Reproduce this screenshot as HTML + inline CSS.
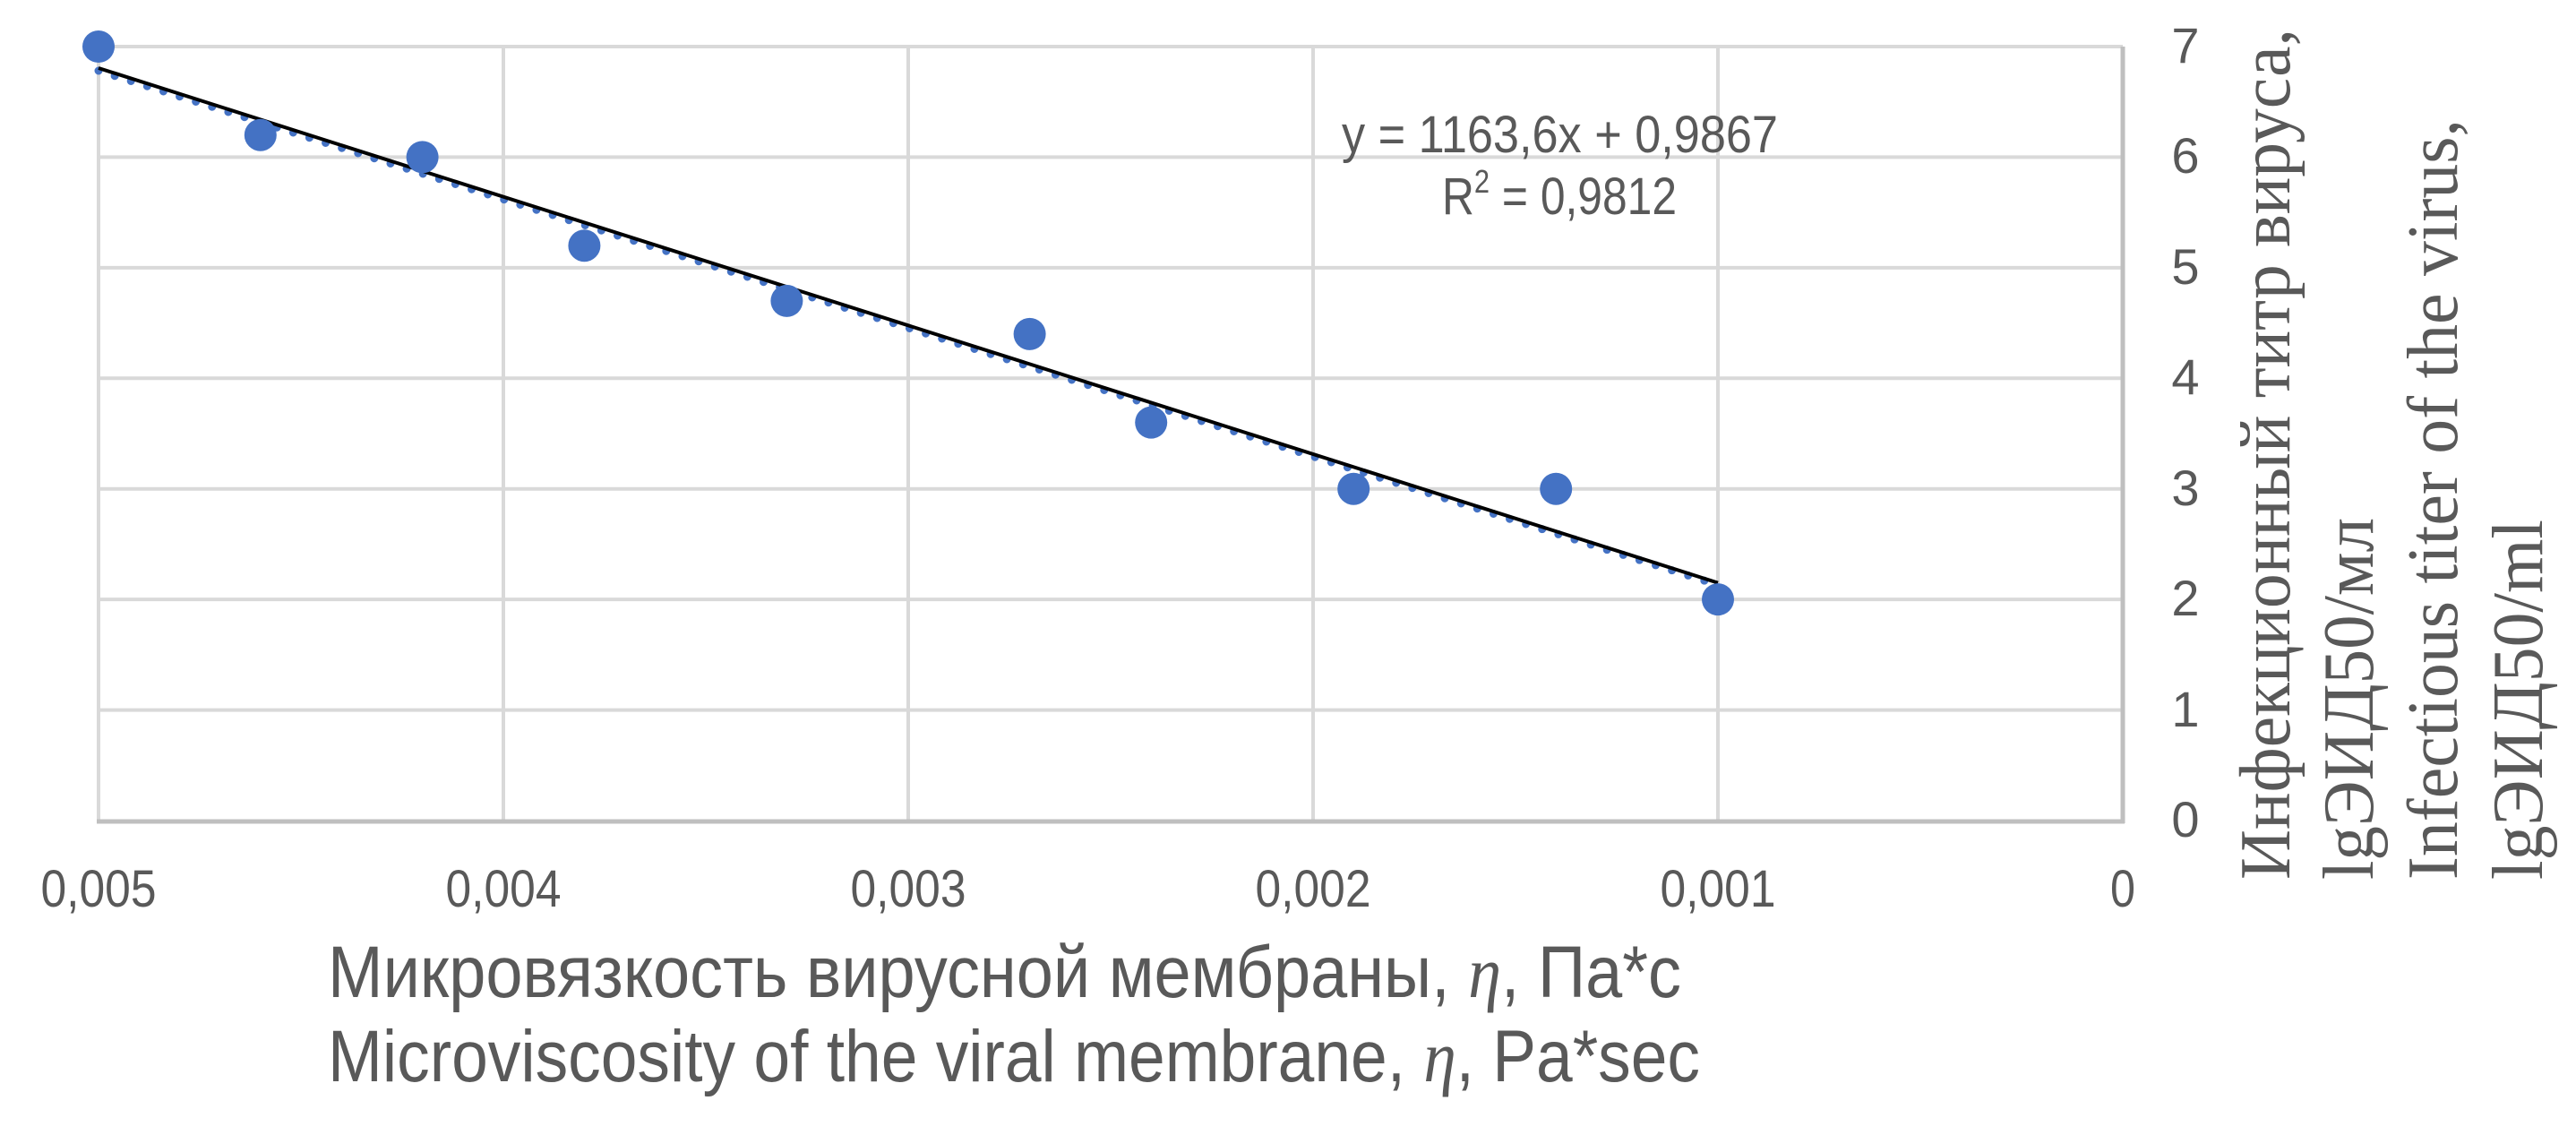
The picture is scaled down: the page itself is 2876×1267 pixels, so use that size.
<!DOCTYPE html>
<html><head><meta charset="utf-8"><style>html,body{margin:0;padding:0;background:#fff}svg{display:block}</style></head>
<body>
<svg width="2876" height="1267" viewBox="0 0 2876 1267" xmlns="http://www.w3.org/2000/svg">
<rect width="2876" height="1267" fill="#fff"/>
<g stroke="#d9d9d9" stroke-width="4">
<line x1="110" y1="52" x2="2370" y2="52"/>
<line x1="110" y1="175.4" x2="2370" y2="175.4"/>
<line x1="110" y1="298.9" x2="2370" y2="298.9"/>
<line x1="110" y1="422.3" x2="2370" y2="422.3"/>
<line x1="110" y1="545.7" x2="2370" y2="545.7"/>
<line x1="110" y1="669.1" x2="2370" y2="669.1"/>
<line x1="110" y1="792.6" x2="2370" y2="792.6"/>
<line x1="110" y1="52" x2="110" y2="916"/>
<line x1="562" y1="52" x2="562" y2="916"/>
<line x1="1014" y1="52" x2="1014" y2="916"/>
<line x1="1466" y1="52" x2="1466" y2="916"/>
<line x1="1918" y1="52" x2="1918" y2="916"/>
</g>
<g stroke="#bfbfbf" stroke-width="5">
<line x1="108" y1="917" x2="2372" y2="917"/>
<line x1="2370" y1="52" x2="2370" y2="919"/>
</g>
<g fill="#595959" font-family="'Liberation Sans', sans-serif" font-size="58" text-anchor="middle">
<text x="110" y="1012" textLength="129" lengthAdjust="spacingAndGlyphs">0,005</text>
<text x="562" y="1012" textLength="129" lengthAdjust="spacingAndGlyphs">0,004</text>
<text x="1014" y="1012" textLength="129" lengthAdjust="spacingAndGlyphs">0,003</text>
<text x="1466" y="1012" textLength="129" lengthAdjust="spacingAndGlyphs">0,002</text>
<text x="1918" y="1012" textLength="129" lengthAdjust="spacingAndGlyphs">0,001</text>
<text x="2370" y="1012" textLength="28" lengthAdjust="spacingAndGlyphs">0</text>
</g>
<g fill="#595959" font-family="'Liberation Sans', sans-serif" font-size="56" text-anchor="middle">
<text x="2440" y="70">7</text>
<text x="2440" y="193">6</text>
<text x="2440" y="317">5</text>
<text x="2440" y="440">4</text>
<text x="2440" y="564">3</text>
<text x="2440" y="687">2</text>
<text x="2440" y="811">1</text>
<text x="2440" y="934">0</text>
</g>
<line x1="110" y1="79" x2="1918" y2="653" stroke="#4472c4" stroke-width="9" stroke-linecap="round" stroke-dasharray="0 19"/>
<line x1="110" y1="76" x2="1918" y2="650.6" stroke="#000" stroke-width="4"/>
<g fill="#4472c4">
<circle cx="110" cy="52" r="18"/>
<circle cx="290.8" cy="150.7" r="18"/>
<circle cx="471.6" cy="175.4" r="18"/>
<circle cx="652.4" cy="274.2" r="18"/>
<circle cx="878.4" cy="335.9" r="18"/>
<circle cx="1149.6" cy="372.9" r="18"/>
<circle cx="1285.2" cy="471.6" r="18"/>
<circle cx="1511.2" cy="545.7" r="18"/>
<circle cx="1737.2" cy="545.7" r="18"/>
<circle cx="1918" cy="669.1" r="18"/>
</g>
<g fill="#595959" font-family="'Liberation Sans', sans-serif" font-size="58">
<text x="1498" y="170" textLength="487" lengthAdjust="spacingAndGlyphs">y = 1163,6x + 0,9867</text>
<text x="1610" y="239" textLength="262" lengthAdjust="spacingAndGlyphs">R<tspan font-size="36" dy="-24">2</tspan><tspan dy="24"> = 0,9812</tspan></text>
</g>
<g fill="#595959" font-family="'Liberation Sans', sans-serif" font-size="82">
<text x="366" y="1113" textLength="1511" lengthAdjust="spacingAndGlyphs">Микровязкость вирусной мембраны, <tspan font-family="'Liberation Serif', serif" font-style="italic">η</tspan>, Па*с</text>
<text x="366" y="1207" textLength="1532" lengthAdjust="spacingAndGlyphs">Microviscosity of the viral membrane, <tspan font-family="'Liberation Serif', serif" font-style="italic">η</tspan>,  Pa*sec</text>
</g>
<g fill="#595959" font-family="'Liberation Serif', serif" font-size="80">
<text transform="translate(2556,982) rotate(-90)" textLength="950" lengthAdjust="spacingAndGlyphs">Инфекционный титр вируса,</text>
<text transform="translate(2649,982) rotate(-90)" textLength="404" lengthAdjust="spacingAndGlyphs">lgЭИД50/мл</text>
<text transform="translate(2743,982) rotate(-90)" textLength="849" lengthAdjust="spacingAndGlyphs">Infectious titer of the virus,</text>
<text transform="translate(2838,982) rotate(-90)" textLength="402" lengthAdjust="spacingAndGlyphs">lgЭИД50/ml</text>
</g>
</svg>
</body></html>
